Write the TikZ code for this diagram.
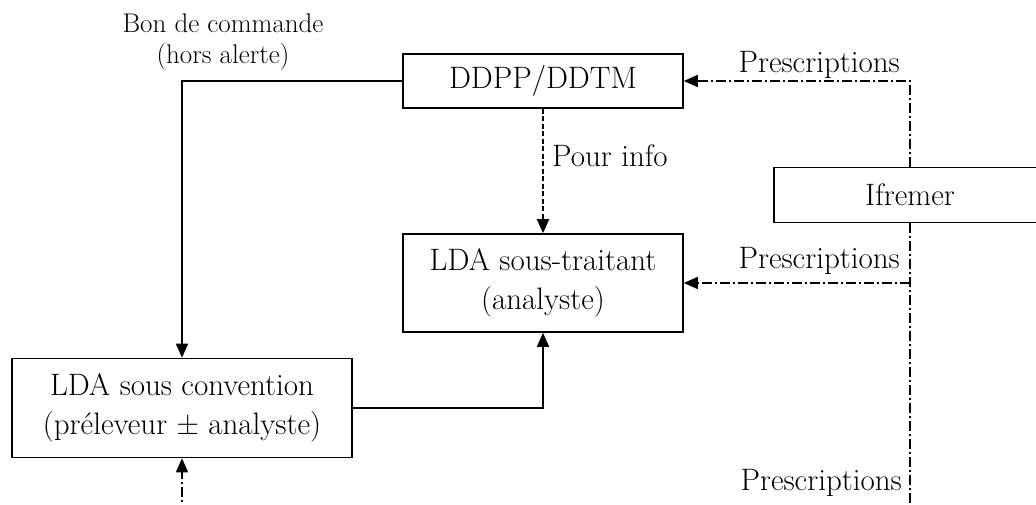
\documentclass[tikz,border=0pt]{standalone}
\usepackage{fontspec}
\usepackage{tikz}
\usetikzlibrary{arrows.meta}

\begin{document}
\begin{tikzpicture}[x=1pt,y=-1pt,
boite/.style={draw, line width=1.6pt, inner sep=0pt, align=center, font=\fontsize{31}{39}\selectfont},
fleche/.style={line width=1.6pt,-{Triangle[length=14pt,width=12pt]}},
tiret/.style={line width=2.2pt, dash pattern=on 5pt off 2.5pt},
pointille/.style={line width=1.4pt, dash pattern=on 10pt off 3pt on 2pt off 3pt},
etiquette/.style={inner sep=0pt, font=\fontsize{31}{36}\selectfont},
]
\fill [white] (0,0) rectangle (1036,505);
\useasboundingbox (0,0) rectangle (1036,505);

% les boites
\node[boite, minimum width=280pt, minimum height=54pt] (ddpp) at (543,81) {DDPP/DDTM};
\node[boite, minimum width=280pt, minimum height=98pt] (soustr) at (543,283) {LDA sous-traitant\\(analyste)};
\node[boite, minimum width=340pt, minimum height=99pt] (conv) at (182,408) {LDA sous convention\\(préleveur ± analyste)};
\node[boite, minimum width=272pt, minimum height=55pt] (ifr) at (910,195) {Ifremer};

% les textes
\node[etiquette, align=center, font=\fontsize{27}{31}\selectfont] (bon) at (223,42) {Bon de commande\\(hors alerte)};
\node[etiquette, anchor=base west] (info) at (552,167) {Pour info};
\node[etiquette, anchor=base east] (presa) at (900,73) {Prescriptions};
\node[etiquette, anchor=base east] (presb) at (900,268) {Prescriptions};
\node[etiquette, anchor=base east] (presc) at (902,490) {Prescriptions};

\coordinate (bas) at (910,515);

\draw [fleche] (ddpp.west) -| (conv.north);
\draw [fleche,tiret] (ddpp.south) -- (soustr.north);
\draw [fleche] (conv.east) -| (soustr.south);

\draw [fleche,pointille] (ifr.north) |- (ddpp.east);
\draw [pointille] (ifr.south) -- (bas);
\draw [fleche,pointille] (ifr.south |- soustr.east) -- (soustr.east);
\draw [fleche,pointille] (conv.south |- bas) -- (conv.south);

\end{tikzpicture}
\end{document}
